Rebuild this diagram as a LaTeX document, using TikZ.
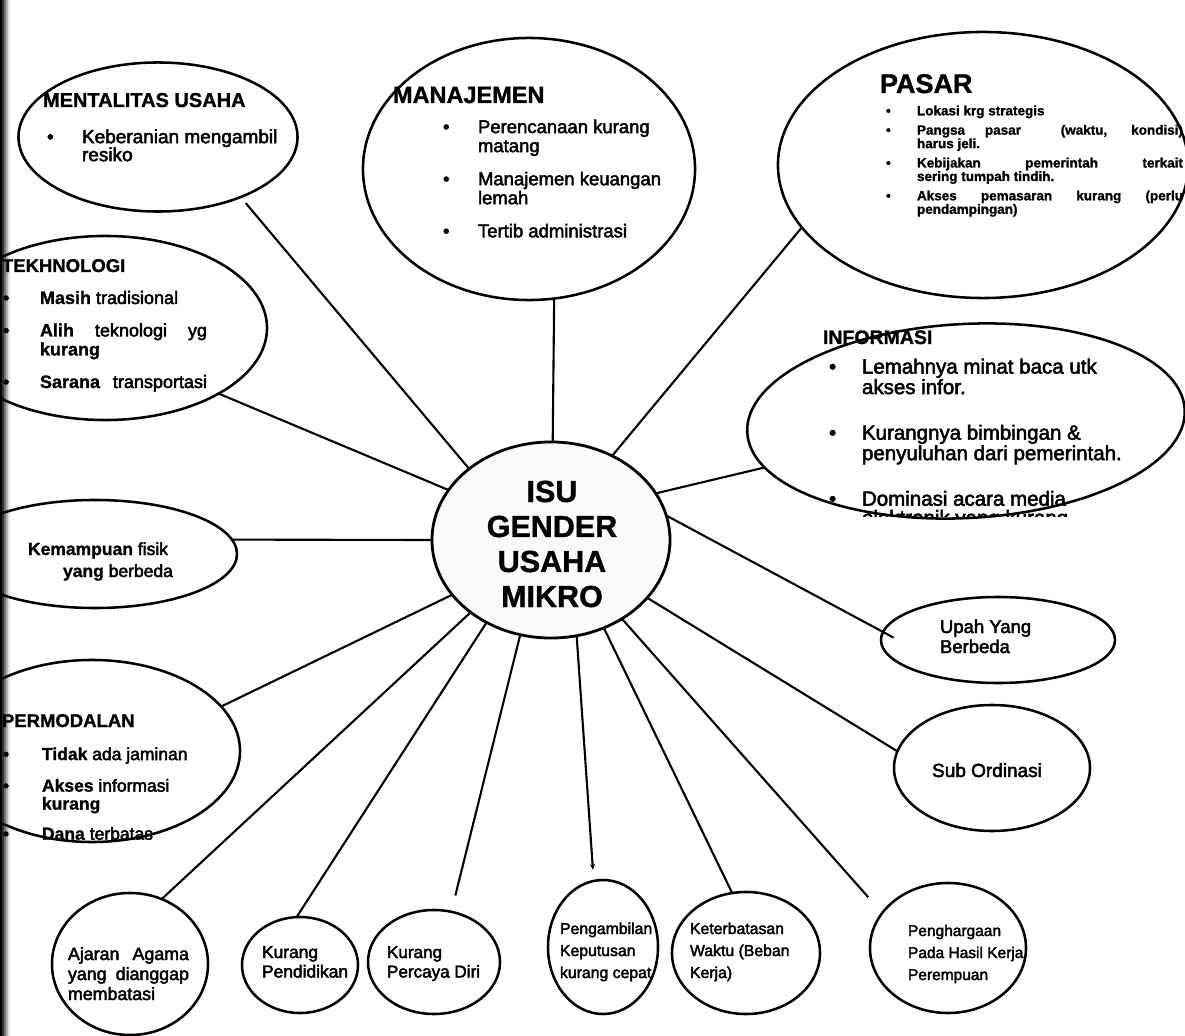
\documentclass[tikz,border=0pt]{standalone}
\usepackage{fontspec}
\setmainfont{Liberation Sans}[UprightFeatures={FakeBold=2.5},BoldFeatures={FakeBold=1.2}]
\usetikzlibrary{shapes.geometric,arrows.meta}
% one drawing unit = one pixel of the layout grid
\newlength\PX \setlength\PX{0.025cm}
\newcommand\fs[2]{\fontsize{#1\PX}{#2\PX}\selectfont}
\newcommand\hd[2]{{\fs{#1}{#1}\bfseries #2}}
\newcommand\bul{\textbullet}
\renewcommand\arraystretch{1}

\begin{document}
\begin{tikzpicture}[x=0.025cm,y=-0.025cm,
  bubble/.style={draw,ellipse,line width=1.8pt,inner sep=0pt,outer sep=0pt},
  spoke/.style={line width=1.5pt},
  txt/.style={inner sep=0pt,outer sep=0pt,anchor=base west},
]
\useasboundingbox (0,0) rectangle (1185,1036);
\fill[white] (0,0) rectangle (1185,1036);

% ---------------- bubbles ----------------
\node[bubble,line width=2pt,fill=gray!4,minimum width=5.95cm,minimum height=4.9cm] (hub) at (551,540) {};
\node[bubble,minimum width=6.975cm,minimum height=3.725cm] (mental) at (158,137) {};
\node[bubble,minimum width=8.3cm,minimum height=6.55cm] (manaj) at (529,169) {};
\node[bubble,minimum width=10.25cm,minimum height=6.65cm] (pasar) at (983,165) {};
\node[bubble,minimum width=8.1cm,minimum height=4.6cm] (tekno) at (105,328) {};
\node[bubble,rotate=3,minimum width=10.95cm,minimum height=4.85cm] (info) at (966,421) {};
\node[bubble,minimum width=7.1cm,minimum height=2.7cm] (kemamp) at (95,554) {};
\node[bubble,minimum width=7.4cm,minimum height=4.55cm] (modal) at (92,751) {};
\node[bubble,minimum width=5.85cm,minimum height=2.15cm] (upah) at (998,640) {};
\node[bubble,minimum width=4.9cm,minimum height=3.15cm] (subord) at (992,768) {};
\node[bubble,minimum width=3.9cm,minimum height=3.55cm] (ajaran) at (130,964) {};
\node[bubble,minimum width=2.9cm,minimum height=2.4cm] (didik) at (300,965) {};
\node[bubble,minimum width=3.3cm,minimum height=2.6cm] (pede) at (434,962) {};
\node[bubble,minimum width=2.75cm,minimum height=3.35cm] (ambil) at (603,947) {};
\node[bubble,minimum width=3.7cm,minimum height=3.05cm] (waktu) at (746,953) {};
\node[bubble,minimum width=3.9cm,minimum height=3.25cm] (harga) at (948,948) {};

% ---------------- spokes ----------------
\draw[spoke,shorten >=0.2cm] (hub.139) -- (mental.-36);
\draw[spoke] (hub.89) -- (manaj.-79);
\draw[spoke] (hub.54) -- (pasar.-161);
\draw[spoke] (hub.154) -- (tekno.-30);
\draw[spoke] (hub.24) -- (info.-170);
\draw[spoke] (hub.180) -- (kemamp.6);
\draw[spoke] (hub.-151) -- (modal.19);
\draw[spoke] (hub.-138) -- (ajaran.64);
\draw[spoke] (hub.-128) -- (didik.94);
\draw[spoke,shorten >=0.42cm] (hub.-108) -- (pede.71);
\draw[spoke,shorten >=0.28cm,-{Stealth[length=4pt,width=3.5pt]}] (hub.-75) -- (ambil.98);
\draw[spoke] (hub.-59) -- (waktu.103);
\draw[spoke,shorten >=0.53cm] (hub.-48) -- (harga.152);
\draw[spoke] (hub.-31) -- (subord.170);
\draw[spoke,shorten >=-0.3cm] (hub.12) -- (upah.176);

% ---------------- centre label ----------------
\node[inner sep=0pt,align=center,font=\fs{30.5}{35}\bfseries] (hubT) at (552,544)
  {ISU\\GENDER\\USAHA\\MIKRO};

% ---------------- bubble texts ----------------
\node[txt] (mentalT) at (43,107) {\fs{19}{18}\begin{tabular}[t]{@{}p{39\PX}@{}p{230\PX}@{}}
\multicolumn{2}{@{}l@{}}{\hd{20}{MENTALITAS USAHA}}\\[17\PX]
\hspace*{4\PX}\bul & Keberanian mengambil\newline resiko
\end{tabular}};

\node[txt] (manajT) at (393,103) {\fs{18.5}{19}\begin{tabular}[t]{@{}p{85\PX}@{}p{230\PX}@{}}
\multicolumn{2}{@{}l@{}}{\hd{23.5}{MANAJEMEN}}\\[11\PX]
\hspace*{50\PX}\bul & Perencanaan kurang\newline matang\\[14\PX]
\hspace*{50\PX}\bul & Manajemen keuangan\newline lemah\\[14\PX]
\hspace*{50\PX}\bul & Tertib administrasi
\end{tabular}};

\node[txt] (pasarT) at (880,93) {\fs{13.5}{13.5}\bfseries\begin{tabular}[t]{@{}p{37\PX}@{}p{266\PX}@{}}
\multicolumn{2}{@{}l@{}}{\hd{27}{PASAR}}\\[8.5\PX]
\hspace*{6\PX}\bul & Lokasi krg strategis\\[5.5\PX]
\hspace*{6\PX}\bul & Pangsa pasar\ \ (waktu, kondisi)\linebreak harus jeli.\\[5.5\PX]
\hspace*{6\PX}\bul & Kebijakan pemerintah terkait\linebreak sering tumpah tindih.\\[5.5\PX]
\hspace*{6\PX}\bul & Akses pemasaran kurang (perlu\linebreak pendampingan)
\end{tabular}};

\node[txt] (teknoT) at (2,272) {\fs{18}{19}\begin{tabular}[t]{@{}p{38\PX}@{}p{167\PX}@{}}
\multicolumn{2}{@{}l@{}}{\hd{18.5}{TEKHNOLOGI}}\\[13\PX]
\hspace*{1\PX}\bul & \textbf{Masih} tradisional\\[13.5\PX]
\hspace*{1\PX}\bul & \textbf{Alih} teknologi yg\linebreak \textbf{kurang}\\[13.5\PX]
\hspace*{1\PX}\bul & \textbf{Sarana}\hfill transportasi
\end{tabular}};

% the last lines of these two lists run past the bubble and are cut off
\begin{scope}
\clip (700,300) rectangle (1185,517);
\node[txt] (infoT) at (823,344) {\fs{20.5}{19}\begin{tabular}[t]{@{}p{39\PX}@{}p{300\PX}@{}}
\multicolumn{2}{@{}l@{}}{\hd{19.5}{INFORMASI}}\\[9\PX]
\hspace*{6\PX}\bul & Lemahnya minat baca utk\newline akses infor.\\[25\PX]
\hspace*{6\PX}\bul & Kurangnya bimbingan \&\newline penyuluhan dari pemerintah.\\[25\PX]
\hspace*{6\PX}\bul & Dominasi acara media\newline elektronik yang kurang
\end{tabular}};
\end{scope}

\node[txt] (kemampT) at (28,555) {\fs{17.5}{22}\begin{tabular}[t]{@{}l@{}}
\textbf{Kemampuan} fisik\\
\hspace*{35\PX}\textbf{yang} berbeda
\end{tabular}};

\begin{scope}
\clip (0,690) rectangle (260,840);
\node[txt] (modalT) at (2,727) {\fs{17.5}{18}\begin{tabular}[t]{@{}p{40\PX}@{}p{160\PX}@{}}
\multicolumn{2}{@{}l@{}}{\hd{18.5}{PERMODALAN}}\\[15\PX]
\hspace*{1\PX}\bul & \textbf{Tidak} ada jaminan\\[13.5\PX]
\hspace*{1\PX}\bul & \textbf{Akses} informasi\newline \textbf{kurang}\\[12\PX]
\hspace*{1\PX}\bul & \textbf{Dana} terbatas
\end{tabular}};
\end{scope}

\node[txt] (upahT) at (940,633) {\fs{18.5}{20}\begin{tabular}[t]{@{}l@{}}Upah Yang\\ Berbeda\end{tabular}};
\node[inner sep=0pt,anchor=base] (subordT) at (987,777) {\fs{19}{19}Sub Ordinasi};

\node[txt] (ajaranT) at (68,960) {\fs{17.8}{20}\begin{tabular}[t]{@{}p{121\PX}@{}}Ajaran Agama\linebreak yang dianggap\linebreak membatasi\end{tabular}};
\node[txt] (didikT) at (262,958) {\fs{17.4}{19.5}\begin{tabular}[t]{@{}l@{}}Kurang\\ Pendidikan\end{tabular}};
\node[txt] (pedeT) at (387,958) {\fs{17.1}{19.5}\begin{tabular}[t]{@{}l@{}}Kurang\\ Percaya Diri\end{tabular}};
\node[txt] (ambilT) at (560,934) {\fs{15.8}{22}\begin{tabular}[t]{@{}l@{}}Pengambilan\\ Keputusan\\ kurang cepat\end{tabular}};
\node[txt] (waktuT) at (690,934) {\fs{15.8}{22}\begin{tabular}[t]{@{}l@{}}Keterbatasan\\ Waktu (Beban\\ Kerja)\end{tabular}};
\node[txt] (hargaT) at (908,936) {\fs{15.5}{22}\begin{tabular}[t]{@{}l@{}}Penghargaan\\ Pada Hasil Kerja\\ Perempuan\end{tabular}};

% ---------------- dark left margin of the sheet ----------------
\foreach \i/\o in {0/1,2/0.8,4/0.55,6/0.3,8/0.12}
  \fill[black,opacity=\o] (\i,0) rectangle ++(2,1036);
\end{tikzpicture}
\end{document}
